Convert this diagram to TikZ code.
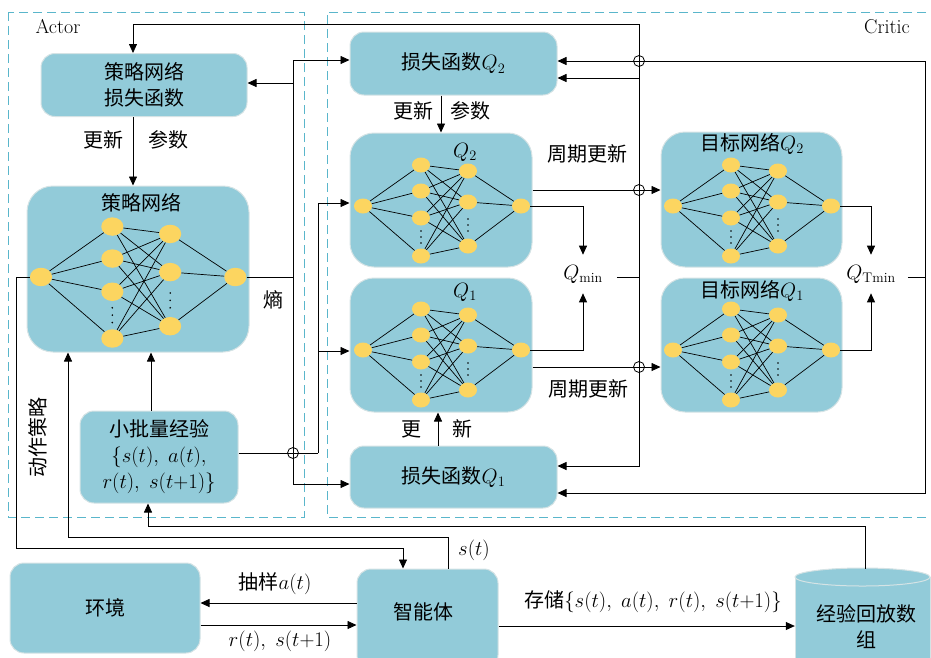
\documentclass[tikz,border=0pt]{standalone}
\usepackage{fontspec}
\newfontfamily\cjk{Noto Sans CJK SC}
\usetikzlibrary{arrows.meta,shapes.geometric,calc}
\definecolor{boxblue}{HTML}{92CBD9}
\definecolor{nodey}{HTML}{FCD560}
\definecolor{dashc}{HTML}{5AB6CB}
\definecolor{boxedge}{HTML}{D5E3E5}
\newcommand{\nnet}[4]{%
\begin{scope}[shift={(#2,#3)},x=#4pt,y=-#4pt]
\node[neuron,minimum width=#4*18pt,minimum height=#4*15pt] (#1i) at (0,0) {};
\foreach \k/\yy in {1/-41,2/-15,3/12,4/50}
  \node[neuron,minimum width=#4*18pt,minimum height=#4*15pt] (#1a\k) at (58,\yy) {};
\foreach \k/\yy in {1/-35,2/-4,3/40}
  \node[neuron,minimum width=#4*18pt,minimum height=#4*15pt] (#1b\k) at (105,\yy) {};
\node[neuron,minimum width=#4*18pt,minimum height=#4*15pt] (#1o) at (158,0) {};
\foreach \k in {1,...,4} \draw[edge] (#1i) -- (#1a\k);
\foreach \k in {1,...,4} {\foreach \m in {1,2,3} \draw[edge] (#1a\k) -- (#1b\m);}
\foreach \m in {1,2,3} \draw[edge] (#1b\m) -- (#1o);
\foreach \d in {-6,0,6} {\fill (58,31+\d) circle[radius=0.9pt]; \fill (105,19+\d) circle[radius=0.9pt];}
\end{scope}}
\begin{document}
\begin{tikzpicture}[x=1pt,y=-1pt,
  every node/.style={font=\cjk\fontsize{20}{26}\selectfont},
  box/.style={rectangle, rounded corners=#1, fill=boxblue, draw=boxedge, line width=1pt, inner sep=0pt, align=center},
  box/.default=14pt,
  neuron/.style={ellipse, fill=nodey, inner sep=0pt},
  edge/.style={line width=0.7pt},
  conn/.style={line width=0.8pt},
  arr/.style={conn, -{Triangle[length=9pt,width=8pt]}},
  frame/.style={draw=dashc, line width=1pt, dash pattern=on 9pt off 5pt},
  lat/.style={font=\rmfamily\fontsize{20}{24}\selectfont}
]
\useasboundingbox (0,0) rectangle (931,657);
% frames
\draw[frame] (8,12) rectangle (304,517);
\draw[frame] (940,12) -- (327,12) -- (327,517) -- (940,517);
\node[lat] at (58,27) {Actor};
\node[lat] at (887,27) {Critic};

% actor boxes
\node[box, minimum width=206pt, minimum height=63pt] (pl) at (144,85) {策略网络\\损失函数};
\node[box=26pt, minimum width=222pt, minimum height=166pt] (pn) at (138,269) {};
\node at (141,203) {策略网络};
\nnet{pn}{41}{277}{1.23}
\node[box, minimum width=158pt, minimum height=92pt] (mb) at (159,457) {小批量经验\\$\{s(t),\;a(t),$\\$r(t),\;s(t{+}1)\}$};

% critic boxes
\node[box, minimum width=207pt, minimum height=63pt] (lq2) at (453.5,63.5) {损失函数$Q_2$};
\node[box=24pt, minimum width=182pt, minimum height=134pt] (q2) at (441,200) {};
\node at (465,152) {$Q_2$};
\nnet{qb}{363}{206}{1}
\node[box=24pt, minimum width=182pt, minimum height=134pt] (q1) at (441,345) {};
\node at (465,292) {$Q_1$};
\nnet{qa}{363}{350}{1}
\node[box, minimum width=207pt, minimum height=62pt] (lq1) at (453.5,477) {损失函数$Q_1$};
\node[box=24pt, minimum width=181pt, minimum height=135pt] (tq2) at (751.5,199.5) {};
\node at (752,144) {目标网络$Q_2$};
\nnet{tb}{673}{206}{1}
\node[box=24pt, minimum width=181pt, minimum height=134pt] (tq1) at (751.5,345) {};
\node at (752,291) {目标网络$Q_1$};
\nnet{ta}{673}{350}{1}
\node[inner xsep=14pt, inner ysep=10pt] (qmin) at (583,274) {$Q_{\mathrm{min}}$};
\node[inner xsep=12pt, inner ysep=10pt] (qtmin) at (871,274) {$Q_{\mathrm{Tmin}}$};

% bottom
\node[box, minimum width=190pt, minimum height=90pt] (env) at (105,608) {环境};
\node[box, minimum width=141pt, minimum height=100pt] (agent) at (427.5,619) {};
\node at (423,612) {智能体};
\fill[boxblue] (795,577) rectangle (930,670);
\draw[boxedge, line width=1pt] (795,577) -- (795,670) (930,577) -- (930,670);
\filldraw[fill=boxblue, draw=boxedge, line width=1pt] (862.5,577) ellipse [x radius=67.5, y radius=9];
\node[minimum width=135pt, minimum height=88pt, inner sep=0pt] (rb) at (862.5,613) {};
\node[align=center] at (866,627) {经验回放数\\组};

% coordinates
\coordinate (be) at (293,277);
\coordinate (bm) at (318,453);
\coordinate (bq) at (639,277);
\coordinate (bt) at (925,277);

% actor internal
\draw[arr] (pl.south -| 133,0) -- (pn.north -| 133,0);
\node at (103,140) {更新};
\node at (168,140) {参数};
\draw[arr] (mb.north -| 151,0) -- (pn.south -| 151,0);

% entropy bus
\draw[conn] (pno) -- (be);
\draw[arr] (be) |- (lq2.west |- 0,60);
\draw[arr] (be) |- (pl.east |- 0,83);
\draw[arr] (be) |- (lq1.west |- 0,484);
\node at (273,300) {熵};

% minibatch to Q nets
\draw[conn] (mb.east |- 0,453) -- (bm);
\draw[arr] (bm) |- (q2.west |- 0,203);
\draw[arr] (bm) |- (q1.west |- 0,351);
\draw[conn] (293,453) circle[radius=5.5];

% loss -> nets
\draw[arr] (lq2.south -| 441,0) -- (q2.north -| 441,0);
\node at (413,111) {更新};
\node at (470,111) {参数};
\draw[arr] (lq1.north -| 438,0) -- (q1.south -| 438,0);
\node at (411,429) {更};
\node at (462,429) {新};

% Q outputs -> Qmin
\draw[arr] (qbo) -| (qmin.north);
\draw[arr] (qao) -| (qmin.south);
\draw[arr] (tbo) -| (qtmin.north);
\draw[arr] (tao) -| (qtmin.south);

% periodic updates
\draw[arr] (q2.east |- 0,190) -- (tq2.west |- 0,190);
\draw[arr] (q1.east |- 0,367) -- (tq1.west |- 0,367);
\node at (587,154) {周期更新};
\node at (588,389) {周期更新};

% Qmin bus
\draw[conn] (qmin.east |- bq) -- (bq);
\draw[arr] (bq) -- (639,24) -| (pl.north -| 133,0);
\draw[arr] (bq) |- (lq2.east |- 0,78);
\draw[arr] (bq) |- (lq1.east |- 0,466);

% QTmin bus
\draw[conn] (qtmin.east |- bt) -- (bt);
\draw[arr] (bt) |- (lq2.east |- 0,61);
\draw[arr] (bt) |- (lq1.east |- 0,493);

\foreach \yy in {61,190,367} \draw[conn] (639,\yy) circle[radius=5.5];

% agent / env / replay
\draw[arr] (agent.west |- 0,603) -- (env.east |- 0,603);
\node at (275,584) {抽样$a(t)$};
\draw[arr] (env.east |- 0,625) -- (agent.west |- 0,625);
\node at (280,641) {$r(t),\;s(t{+}1)$};
\draw[arr] (agent.east |- 0,626) -- (rb.west |- 0,626);
\node at (653,602) {存储$\{s(t),\;a(t),\;r(t),\;s(t{+}1)\}$};

\draw[arr] (rb.north -| 865,0) |- (148,526) -- (mb.south -| 148,0);
\draw[arr] (agent.north -| 448,0) |- (68,537) -- (pn.south -| 68,0);
\node at (474,550) {$s(t)$};
\draw[arr] (pni) -- (16,277) |- (403,548) -- (agent.north -| 403,0);
\node[rotate=90] at (38,437) {动作策略};
\end{tikzpicture}
\end{document}
